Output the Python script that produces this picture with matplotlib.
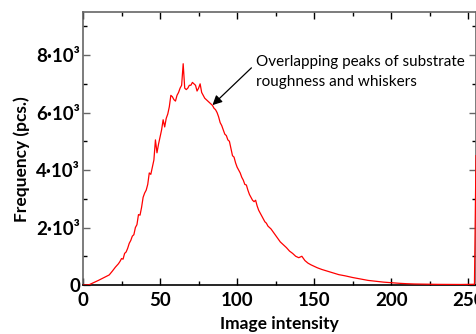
import matplotlib
matplotlib.use("Agg")
import matplotlib.pyplot as plt
from matplotlib.ticker import FixedLocator, FixedFormatter, MultipleLocator

# histogram (intensity bin -> count)
intensity = [0, 2, 4, 6, 10, 14, 17, 19, 21, 23, 24, 25, 26, 27, 28, 29, 30,
             31, 32, 33, 34, 35, 36, 37, 38, 39, 40, 41, 42, 43, 44, 45, 46,
             47, 48, 49, 50, 51, 52, 53, 54, 55, 56, 57, 58, 59, 60, 61, 62,
             63, 64, 65, 66, 67, 68, 69, 70, 71, 72, 73, 74, 75, 76, 77, 78,
             79, 80, 81, 82, 83, 84, 85, 86, 87, 88, 89, 90, 91, 92, 93, 94,
             95, 96, 97, 98, 99, 100, 101, 102, 103, 104, 105, 106, 107, 108,
             109, 110, 111, 112, 113, 114, 115, 116, 117, 118, 119, 120, 122,
             124, 126, 128, 130, 132, 134, 136, 138, 140, 142, 144, 146, 148,
             150, 152, 155, 158, 162, 166, 170, 175, 180, 185, 190, 195, 200,
             205, 210, 215, 220, 225, 230, 235, 240, 245, 250, 254, 255]
counts = [0, 0, 10, 60, 160, 270, 350, 480, 620, 740, 820, 920, 900, 1100,
          1150, 1280, 1450, 1550, 1700, 1750, 2000, 2100, 2450, 2430, 2700,
          3050, 3200, 3300, 3500, 3900, 3850, 4100, 4350, 5050, 4600, 4900,
          5150, 5400, 5750, 5500, 5800, 5950, 6200, 6600, 6550, 6450, 6400,
          6600, 6700, 6850, 6950, 7700, 6850, 6800, 6850, 6950, 6950, 7050,
          7000, 6950, 6750, 6850, 7000, 6700, 6600, 6500, 6450, 6400, 6350,
          6300, 6250, 6150, 6100, 6000, 5850, 5650, 5550, 5400, 5250, 5200,
          5050, 5000, 4750, 4500, 4450, 4250, 4100, 4000, 3900, 3750, 3650,
          3500, 3480, 3300, 3150, 3050, 2950, 2900, 2950, 2750, 2600, 2500,
          2400, 2300, 2200, 2150, 2050, 1950, 1800, 1650, 1500, 1400, 1300,
          1180, 1100, 1000, 950, 1000, 850, 760, 700, 650, 600, 540, 490, 420,
          360, 320, 260, 210, 160, 130, 100, 80, 60, 45, 35, 30, 25, 22, 20,
          20, 18, 20, 25, 4500]

ytick_vals = [0, 2000, 4000, 6000, 8000]
ytick_labels = ["0", "2·10³", "4·10³", "6·10³", "8·10³"]

plt.rcParams['font.family'] = ['Lato', 'DejaVu Sans']

fig = plt.figure(figsize=(4.77, 3.34), dpi=100)
ax = fig.add_axes([83 / 477, 49 / 334, 393 / 477, 273 / 334])

ax.plot(intensity, counts, color='red', lw=0.9, zorder=3)

ax.set_xlim(0, 255)
ax.set_ylim(0, 9500)

ax.xaxis.set_major_locator(MultipleLocator(50))
ax.xaxis.set_minor_locator(MultipleLocator(25))
ax.yaxis.set_major_locator(FixedLocator(ytick_vals))
ax.yaxis.set_major_formatter(FixedFormatter(ytick_labels))
ax.yaxis.set_minor_locator(MultipleLocator(1000))

ax.tick_params(which='both', direction='in', top=True, right=True,
               labelsize=13.5)
ax.tick_params(axis='x', pad=5)
ax.tick_params(axis='y', pad=2)
ax.tick_params(which='major', length=5, width=1)
ax.tick_params(which='minor', length=3, width=1)
ax.tick_params(axis='y', colors='#666666', labelcolor='black')
for lab in ax.get_xticklabels() + ax.get_yticklabels():
    lab.set_fontweight('bold')

for side in ['left', 'top', 'right']:
    ax.spines[side].set_color('#666666')
ax.spines['bottom'].set_color('black')
for s in ax.spines.values():
    s.set_linewidth(1.2)

ax.set_xlabel('Image intensity', fontsize=12.5, fontweight='bold')
ax.set_ylabel('Frequency (pcs.)', fontsize=12.5, fontweight='bold')
ax.xaxis.set_label_coords(0.5, -0.112)
ax.yaxis.set_label_coords(-0.135, 0.46)

ax.annotate('Overlapping peaks of substrate\nroughness and whiskers',
            xy=(84, 6260), xytext=(112, 8000),
            fontsize=11, va='top', ha='left', linespacing=1.5,
            arrowprops=dict(arrowstyle='-|>', color='black', lw=0.9,
                            mutation_scale=14, shrinkA=0, shrinkB=0,
                            relpos=(-0.02, 0.62)))

fig.savefig('out.png', dpi=100)
